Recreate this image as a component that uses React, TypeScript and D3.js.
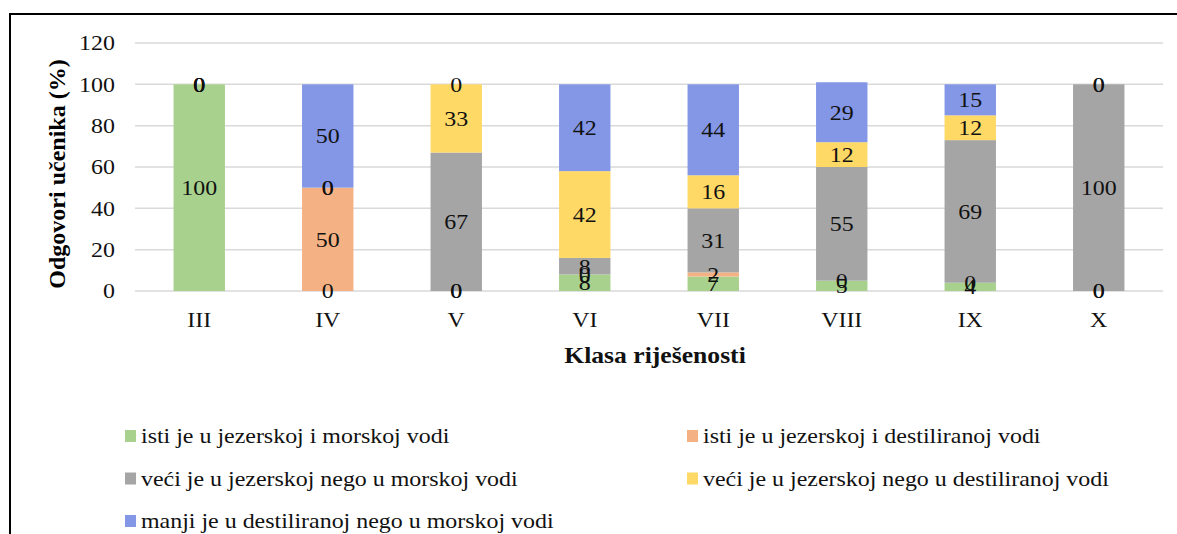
import React from 'react';
import * as d3 from 'd3';

const categories = ['III', 'IV', 'V', 'VI', 'VII', 'VIII', 'IX', 'X'];
const seriesNames = [
  'isti je u jezerskoj i morskoj vodi',
  'isti je u jezerskoj i destiliranoj vodi',
  'veći je u jezerskoj nego u morskoj vodi',
  'veći je u jezerskoj nego u destiliranoj vodi',
  'manji je u destiliranoj nego u morskoj vodi',
];
const colors = ['#A9D18E', '#F4B183', '#A5A5A5', '#FFD966', '#8497E6'];

// values per series, one per category
const istiMorska = [100, 0, 0, 8, 7, 5, 4, 0];
const istiDestilirana = [0, 50, 0, 0, 2, 0, 0, 0];
const veciMorska = [0, 0, 67, 8, 31, 55, 69, 100];
const veciDestilirana = [0, 0, 33, 42, 16, 12, 12, 0];
const manjiDestilirana = [0, 50, 0, 42, 44, 29, 15, 0];
const yTicks = [0, 20, 40, 60, 80, 100, 120];

const seriesValues = [istiMorska, istiDestilirana, veciMorska, veciDestilirana, manjiDestilirana];

const W = 1177;
const H = 534;
const plot = { left: 135, right: 1163, top: 43, bottom: 291 };
const font = "'Liberation Serif', 'Times New Roman', 'DejaVu Serif', serif";
const STRETCH = 1.14; // the source text is a bit wider than plain Times

// text widened horizontally around its anchor point
const T = ({ x, y, children, anchor = 'start', size = 21, weight = 'normal', dy }: any) => (
  <g transform={`translate(${x},${y}) scale(${STRETCH},1)`}>
    <text x={0} y={0} dy={dy} textAnchor={anchor} fontSize={size} fontWeight={weight} fill="#111">{children}</text>
  </g>
);

export default function App() {
  const x = d3.scaleBand<string>()
    .domain(categories)
    .range([plot.left, plot.right])
    .paddingInner(0.6)
    .paddingOuter(0.3);
  const y = d3.scaleLinear().domain([0, 120]).range([plot.bottom, plot.top]);

  const rows = categories.map((c, i) => {
    const r: any = { cat: c };
    seriesValues.forEach((s, k) => (r['s' + k] = s[i]));
    return r;
  });
  const stack = d3.stack<any>().keys(seriesValues.map((_, k) => 's' + k));
  const layers = stack(rows);

  return (
    <svg width={W} height={H} style={{ display: 'block', position: 'absolute', left: 0, top: 0, fontFamily: font }}>
      <rect x={0} y={0} width={W} height={H} fill="#fff" />
      <path d={`M10,${H}V14H${W}`} fill="none" stroke="#000" strokeWidth={2} />

      {yTicks.map(t => (
        <g key={t}>
          <line x1={plot.left} x2={plot.right} y1={y(t)} y2={y(t)} stroke="#D9D9D9" strokeWidth={1.5} />
          <T x={115} y={y(t)} dy="0.35em" anchor="end">{t}</T>
        </g>
      ))}

      {layers.map((layer, k) => (
        <g key={k} fill={colors[k]}>
          {layer.map((d, i) => (
            <rect key={i} x={x(categories[i])} width={x.bandwidth()} y={y(d[1])} height={y(d[0]) - y(d[1])} />
          ))}
        </g>
      ))}

      {layers.map((layer, k) => (
        <g key={'l' + k}>
          {layer.map((d, i) => (
            <T key={i} x={x(categories[i])! + x.bandwidth() / 2} y={y((d[0] + d[1]) / 2)} dy="0.35em"
              anchor="middle">{seriesValues[k][i]}</T>
          ))}
        </g>
      ))}

      {categories.map(c => (
        <T key={c} x={x(c)! + x.bandwidth() / 2} y={327} anchor="middle">{c}</T>
      ))}

      <T x={655} y={363} anchor="middle" size={22.5} weight="bold">Klasa riješenosti</T>
      <text transform="translate(65,174) rotate(-90)" textAnchor="middle"
        fontSize={24} fontWeight="bold" fill="#000">Odgovori učenika (%)</text>

      {seriesNames.map((n, k) => {
        const lx = k % 2 === 0 ? 125 : 687;
        const ly = 443 + Math.floor(k / 2) * 42.5;
        return (
          <g key={n}>
            <rect x={lx} y={ly - 13} width={11} height={12} fill={colors[k]} />
            <T x={lx + 16} y={ly}>{n}</T>
          </g>
        );
      })}
    </svg>
  );
}
